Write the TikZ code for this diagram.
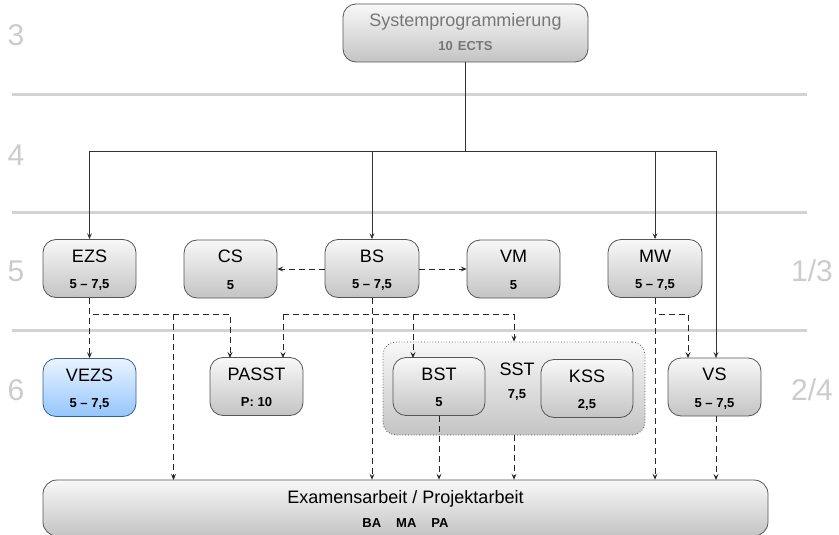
\documentclass[tikz,border=0pt]{standalone}
\usepackage{fontspec}
\setmainfont{Liberation Sans}
\usetikzlibrary{arrows.meta,calc}
\definecolor{lanegray}{HTML}{D3D3D3}
\definecolor{rowgray}{HTML}{CCCCCC}
\definecolor{boxborder}{HTML}{555555}
\definecolor{boxtop}{HTML}{F8F8F8}
\definecolor{boxbot}{HTML}{C4C4C4}
\definecolor{bluetop}{HTML}{EAF4FF}
\definecolor{bluebot}{HTML}{94C6FC}
\definecolor{blueborder}{HTML}{2E6299}
\definecolor{sptext}{HTML}{777777}
\tikzset{
  modbox/.style={draw=boxborder, line width=0.8pt, rounded corners=13pt,
    top color=boxtop, bottom color=boxbot, inner sep=0pt, minimum height=58pt},
  bluebox/.style={modbox, draw=blueborder, top color=bluetop, bottom color=bluebot},
  ttl/.style={inner sep=0pt, font=\fontsize{18}{18}\selectfont, text height=13pt, text depth=0pt},
  sub/.style={inner sep=0pt, font=\fontsize{13}{13}\selectfont\bfseries, text height=9.3pt, text depth=0pt},
  rowlbl/.style={inner sep=0pt, text=rowgray, font=\fontsize{30}{30}\selectfont, text height=21.5pt, text depth=0pt},
  lane/.style={draw=lanegray, line width=3pt},
  sline/.style={draw=black!80, line width=0.7pt, -{Stealth[length=6pt,width=5pt,inset=2.5pt]}},
  sline0/.style={draw=black!80, line width=0.7pt},
  dline/.style={draw=black!85, line width=0.7pt, dash pattern=on 6pt off 4pt, -{Stealth[length=6pt,width=5pt,inset=2.5pt]}},
  dline0/.style={draw=black!85, line width=0.7pt, dash pattern=on 6pt off 4pt},
}
\newcommand\modnode[7]{% style, name, x, y, w, title, sub
  \node[#1, minimum width=#5] (#2) at (#3,#4) {};
  \node[ttl] (#2t) at ([yshift=13pt]#2.center) {#6};
  \node[sub] (#2s) at ([yshift=-15.5pt]#2.center) {#7};
}
\begin{document}
\begin{tikzpicture}[x=1pt,y=-1pt]
\useasboundingbox (0,0) rectangle (839,535);
% lanes
\draw[lane] (12,95) -- (807,95);
\draw[lane] (12,212) -- (807,212);
\draw[lane] (12,330) -- (807,330);
% row labels
\node[rowlbl] (r3) at (16,35) {3};
\node[rowlbl] (r4) at (16,155) {4};
\node[rowlbl] (r5) at (16,271) {5};
\node[rowlbl] (r6) at (16,390) {6};
\node[rowlbl] (r13) at (812,271) {1/3};
\node[rowlbl] (r24) at (812,390) {2/4};
% SST container
\node[draw=black!70, dotted, line width=0.8pt, rounded corners=13pt, top color=boxtop, bottom color=boxbot,
  minimum width=262pt, minimum height=93pt, inner sep=0pt] (SST) at (514,388.5) {};
\node[ttl] (SSTt) at (517,369) {SST};
\node[sub] (SSTs) at (517,394) {7,5};
% top node
\node[modbox, minimum width=245pt] (SP) at (465.5,33) {};
\node[ttl, text=sptext] (SPt) at ([yshift=13pt]SP.center) {Systemprogrammierung};
\node[sub, text=sptext] (SPs) at ([yshift=-13pt]SP.center) {10\hspace{5pt}ECTS};
% row 5
\modnode{modbox}{EZS}{89.5}{268.5}{93pt}{EZS}{5 -- 7,5}
\modnode{modbox}{CS}{230.5}{269}{93pt}{CS}{5}
\modnode{modbox}{BS}{372}{268.5}{94pt}{BS}{5 -- 7,5}
\modnode{modbox}{VM}{513.5}{269}{93pt}{VM}{5}
\modnode{modbox}{MW}{655}{268.5}{94pt}{MW}{5 -- 7,5}
% row 6
\modnode{bluebox}{VEZS}{89.5}{387.5}{93pt}{VEZS}{5 -- 7,5}
\modnode{modbox}{PASST}{256.5}{386.5}{93pt}{PASST}{P: 10}
\modnode{modbox}{BST}{439}{386.5}{92pt}{BST}{5}
\modnode{modbox}{KSS}{587}{388.5}{92pt}{KSS}{2,5}
\modnode{modbox}{VS}{714.5}{387}{93pt}{VS}{5 -- 7,5}
% exam
\node[modbox, minimum width=725pt, minimum height=56pt, rounded corners=14pt] (EX) at (405.5,508) {};
\node[ttl] (EXt) at (405.5,497) {Examensarbeit / Projektarbeit};
\node[sub] (EXs) at (405.5,523) {BA\hspace{15pt}MA\hspace{15pt}PA};
% coordinates
\coordinate (hy) at (0,151);
\coordinate (jy) at (0,314);
\coordinate (vsS) at (716,358);
\coordinate (vsD) at (688,358);
\coordinate (paE) at (230,358);
\coordinate (paB) at (283,358);
\coordinate (bstB) at (413,358);
\coordinate (exE) at (173.5,480);
\coordinate (exVS) at (716,480);
% solid tree
\draw[sline0] (SP.south) -- (SP.south |- hy);
\draw[sline0] (EZS.north |- hy) -- (vsS |- hy);
\draw[sline] (EZS.north |- hy) -- (EZS.north);
\draw[sline] (BS.north |- hy) -- (BS.north);
\draw[sline] (MW.north |- hy) -- (MW.north);
\draw[sline] (vsS |- hy) -- (vsS);
% dashed horizontal row 5
\draw[dline] (BS.west |- 0,269) -- (CS.east);
\draw[dline] (BS.east |- 0,269) -- (VM.west);
% from EZS
\draw[dline] (EZS.south) -- (VEZS.north);
\draw[dline] (EZS.south) |- (paE |- jy) -- (paE);
\draw[dline] (exE |- jy) -- (exE);
% from BS
\draw[dline] (BS.south) -- (BS.south |- EX.north);
\draw[dline0] (paB |- jy) -- (SST.north |- jy);
\draw[dline] (paB |- jy) -- (paB);
\draw[dline] (bstB |- jy) -- (bstB);
\draw[dline] (SST.north |- jy) -- (SST.north);
% from MW
\draw[dline] (MW.south) -- (MW.south |- EX.north);
\draw[dline] (MW.south) |- (vsD |- jy) -- (vsD);
% into exam
\draw[dline] (BST.south) -- (BST.south |- EX.north);
\draw[dline] (SST.south) -- (SST.south |- EX.north);
\draw[dline] (vsS |- VS.south) -- (exVS);
\end{tikzpicture}
\end{document}
